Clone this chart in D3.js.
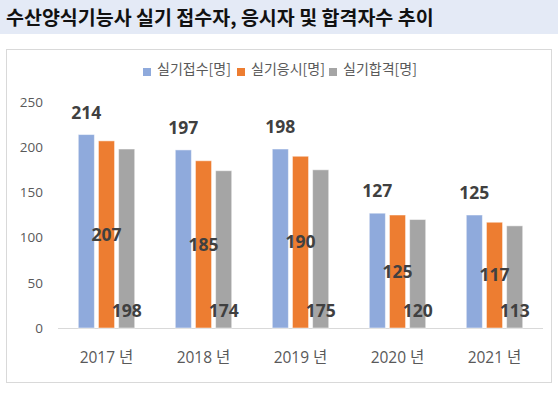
<!DOCTYPE html>
<html><head><meta charset="utf-8">
<script src="https://cdn.jsdelivr.net/npm/d3@7"></script>
<style>body{margin:0;background:#fff}svg{display:block}</style>
</head><body>
<script>
const title = "수산양식기능사 실기 접수자, 응시자 및 합격자수 추이";
const categories = ["2017 년","2018 년","2019 년","2020 년","2021 년"];
const seriesNames = ["실기접수[명]","실기응시[명]","실기합격[명]"];
const applied = [214,197,198,127,125];
const attended = [207,185,190,125,117];
const passed = [198,174,175,120,113];
const yTicks = [0,50,100,150,200,250];
const colors = ["#8FAADC","#ED7D31","#A5A5A5"];
const seriesValues = [applied, attended, passed];

const W=558,H=397;
const font = "'Noto Sans CJK KR','Noto Sans',sans-serif";
const numFont = "'Open Sans','Noto Sans CJK KR',sans-serif";
const svg = d3.select("body").append("svg").attr("width",W).attr("height",H);

svg.append("rect").attr("x",0).attr("y",0).attr("width",W).attr("height",34).attr("fill","#E4EAF6");
svg.append("text").attr("x",6).attr("y",25).text(title)
  .attr("font-family",font).attr("font-weight","bold").attr("font-size",19.5).attr("fill","#111");

svg.append("rect").attr("x",6.5).attr("y",49.5).attr("width",545).attr("height",333)
  .attr("fill","#fff").attr("stroke","#D9D9D9");

const y = d3.scaleLinear().domain([0,250]).range([328,102]);
const x = d3.scaleBand().domain(categories).range([58,543]);
const xs = d3.scaleBand().domain(d3.range(3)).range([16.25,80.75]).padding(0.2);

// y axis
const ya = svg.append("g").attr("transform","translate(46,0)")
  .call(d3.axisLeft(y).tickValues(yTicks).tickSize(0).tickPadding(3));
ya.select(".domain").remove();
ya.selectAll("text").attr("font-family",numFont).attr("font-size",13.5).attr("fill","#595959");

// baseline
svg.append("line").attr("x1",58).attr("x2",543).attr("y1",y(0)+0.5).attr("y2",y(0)+0.5)
  .attr("stroke","#D9D9D9");

// x axis labels
const xa = svg.append("g").attr("transform",`translate(0,${y(0)})`)
  .call(d3.axisBottom(x).tickSize(0).tickPadding(24));
xa.select(".domain").remove();
xa.selectAll("text").attr("font-family",numFont).attr("font-size",15.5).attr("fill","#595959");

// bars
const data = [];
seriesValues.forEach((vals,s)=>vals.forEach((v,i)=>data.push({s,i,v,c:categories[i]})));
svg.append("g").selectAll("rect").data(data).join("rect")
  .attr("x",d=>x(d.c)+xs(d.s)).attr("width",xs.bandwidth())
  .attr("y",d=>y(d.v)).attr("height",d=>y(0)-y(d.v))
  .attr("fill",d=>colors[d.s]).attr("stroke","#fff").attr("stroke-opacity",0.5).attr("stroke-width",1);

// labels
svg.append("g").selectAll("text").data(data).join("text")
  .attr("x",d=>x(d.c)+xs(d.s)+xs.bandwidth()/2)
  .attr("y",d=> d.s===0 ? y(d.v)-22 : d.s===1 ? y(d.v/2) : y(0)-17)
  .attr("dy","0.35em").attr("text-anchor","middle")
  .attr("font-family",numFont).attr("font-weight","bold").attr("font-size",17.5).attr("fill","#404040")
  .text(d=>d.v);

// legend
const legX = [143,237,329];
const lg = svg.append("g");
seriesNames.forEach((n,i)=>{
  lg.append("rect").attr("x",legX[i]).attr("y",68).attr("width",8).attr("height",8).attr("fill",colors[i]);
  lg.append("text").attr("x",legX[i]+14).attr("y",74).text(n)
    .attr("font-family",font).attr("font-size",14).attr("fill","#595959");
});
</script>
</body></html>
